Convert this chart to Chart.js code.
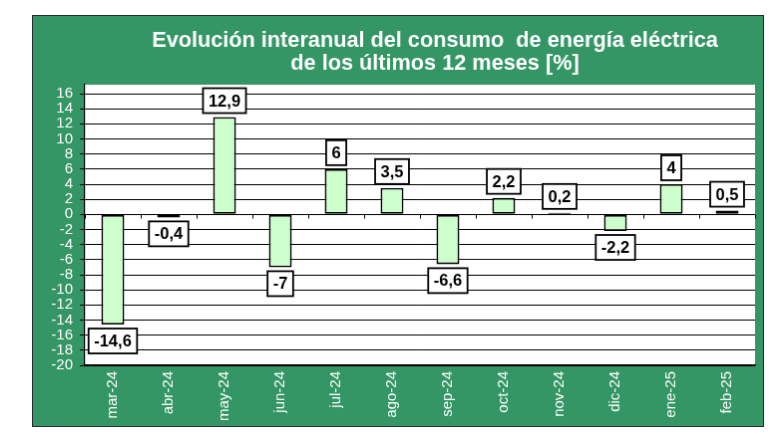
<!DOCTYPE html>
<html><head><meta charset="utf-8">
<script src="https://cdn.jsdelivr.net/npm/chart.js@4/dist/chart.umd.min.js"></script>
<style>
html,body{margin:0;padding:0;background:#fff;}
#c{position:absolute;left:32px;top:15px;border:1px solid #2b2b2b;background:#349664;}
</style></head><body>
<canvas id="c" width="732" height="412"></canvas>
<script>
const categories = ['mar-24','abr-24','may-24','jun-24','jul-24','ago-24','sep-24','oct-24','nov-24','dic-24','ene-25','feb-25'];
const values = [-14.6, -0.4, 12.9, -7, 6, 3.5, -6.6, 2.2, 0.2, -2.2, 4, 0.5];
const yTicks = [-20,-18,-16,-14,-12,-10,-8,-6,-4,-2,0,2,4,6,8,10,12,14,16];
const titleLines = ['Evolución interanual del consumo  de energía eléctrica', 'de los últimos 12 meses [%]'];

const FONT = "'Liberation Sans', Arial, sans-serif";

const plotBg = {
  id: 'plotBg',
  beforeDraw(chart) {
    const a = chart.chartArea, ctx = chart.ctx;
    ctx.save(); ctx.fillStyle = '#fff';
    ctx.fillRect(a.left, a.top, a.right - a.left, a.bottom - a.top);
    ctx.restore();
  }
};

const titlePlugin = {
  id: 'titleText',
  afterDraw(chart) {
    const ctx = chart.ctx;
    ctx.save();
    ctx.fillStyle = '#fff';
    ctx.font = "bold 21.7px " + FONT;
    ctx.textAlign = 'center';
    ctx.textBaseline = 'alphabetic';
    ctx.fillText(titleLines[0], 403, 31);
    ctx.fillText(titleLines[1], 403, 54);
    ctx.restore();
  }
};

const zeroTicks = {
  id: 'zeroTicks',
  afterDatasetsDraw(chart) {
    const x = chart.scales.x, y = chart.scales.y, ctx = chart.ctx;
    const y0 = Math.round(y.getPixelForValue(0)) + 0.5;
    const step = (x.right - x.left) / categories.length;
    ctx.save(); ctx.strokeStyle = '#000'; ctx.lineWidth = 1;
    for (let i = 0; i <= categories.length; i++) {
      const px = Math.round(x.left + i * step) + 0.5;
      ctx.beginPath(); ctx.moveTo(px, y0); ctx.lineTo(px, y0 + 4); ctx.stroke();
    }
    ctx.restore();
  }
};

const boxLabels = {
  id: 'boxLabels',
  afterDatasetsDraw(chart) {
    const ctx = chart.ctx;
    const meta = chart.getDatasetMeta(0);
    ctx.save();
    ctx.font = "bold 16.5px " + FONT;
    ctx.textAlign = 'center';
    ctx.textBaseline = 'middle';
    meta.data.forEach((bar, i) => {
      const v = values[i];
      const txt = String(v).replace('.', ',');
      const tw = ctx.measureText(txt).width;
      const w = tw + 11, h = 25;
      const cx = bar.x;
      let top = v >= 0 ? bar.y - 4 - h : bar.y + 4;
      const left = cx - w / 2;
      ctx.fillStyle = '#fff';
      ctx.fillRect(left, top, w, h);
      ctx.strokeStyle = '#000'; ctx.lineWidth = 1.8;
      ctx.strokeRect(left, top, w, h);
      ctx.fillStyle = '#000';
      ctx.fillText(txt, cx, top + h / 2 + 1);
    });
    ctx.restore();
  }
};

new Chart(document.getElementById('c'), {
  type: 'bar',
  data: {
    labels: categories,
    datasets: [{
      data: values,
      backgroundColor: '#CCFFCC',
      borderColor: '#000',
      borderWidth: 1.8,
      borderSkipped: false,
      categoryPercentage: 1,
      barPercentage: 0.41
    }]
  },
  options: {
    responsive: false,
    devicePixelRatio: 1,
    animation: false,
    layout: { padding: { top: 69, right: 8, bottom: 0, left: 0 } },
    plugins: { legend: { display: false }, title: { display: false }, tooltip: { enabled: false } },
    scales: {
      x: {
        grid: { display: false, drawTicks: false },
        border: { display: true, color: '#000', width: 1.2 },
        ticks: { color: '#fff', font: { family: FONT, size: 15 }, minRotation: 90, maxRotation: 90, padding: 6, autoSkip: false },
        afterFit: s => { s.height = 61; }
      },
      y: {
        min: -20, max: 17.19,
        afterBuildTicks: s => { s.ticks = yTicks.map(v => ({ value: v })); },
        grid: { color: '#000', lineWidth: 1, tickLength: 5, drawTicks: true },
        border: { display: true, color: '#000', width: 1.2 },
        ticks: { color: '#fff', font: { family: FONT, size: 15 }, padding: 7, autoSkip: false },
        afterFit: s => { s.width = 52; }
      }
    }
  },
  plugins: [plotBg, zeroTicks, boxLabels, titlePlugin]
});
</script>
</body></html>
